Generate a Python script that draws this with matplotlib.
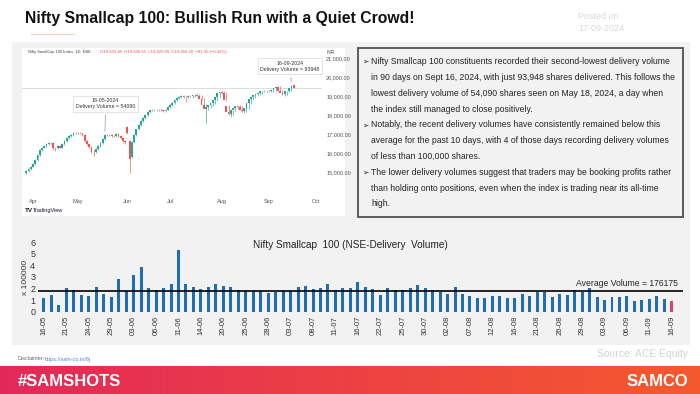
import numpy as np
import matplotlib
matplotlib.use("Agg")
import matplotlib.pyplot as plt
from matplotlib import font_manager
from matplotlib.patches import Rectangle

names = {f.name for f in font_manager.fontManager.ttflist}
NARROW = "Liberation Sans Narrow" if "Liberation Sans Narrow" in names else "Liberation Sans"
plt.rcParams["font.family"] = ["Liberation Sans", "DejaVu Sans"]

# ---- daily OHLC, Nifty Smallcap 100 ----
opens = [14950, 15050, 15150, 15300, 15450, 15650, 15900, 16150, 16300, 16400,
         16480, 16520, 16550, 16300, 16250, 16380, 16300, 16500, 16650, 16780,
         16900, 16980, 17050, 17080, 17060, 17040, 16950, 16650, 16500, 16350,
         16080, 16050, 16200, 16380, 16550, 16750, 16950, 16980, 16950, 16920,
         16900, 17000, 16900, 16800, 16650, 17400, 16650, 15800, 16600, 16950,
         17250, 17500, 17700, 17850, 18000, 18150, 18250, 18300, 18260, 18300,
         18280, 18250, 18230, 18300, 18420, 18550, 18650, 18780, 18900, 18950,
         19000, 18980, 18950, 19020, 19000, 19050, 19080, 19000, 18850, 18550,
         18350, 18450, 18550, 18650, 18800, 18950, 19150, 19200, 19150, 18500,
         18150, 18050, 18250, 18400, 18500, 18450, 18250, 18200, 18400, 18650,
         18850, 18950, 19050, 19100, 19150, 19250, 19300, 19280, 19300, 19290,
         19350, 19450, 19500, 19300, 19150, 19100, 19250, 19300, 19450, 19603]
highs = [15100, 15200, 15350, 15500, 15700, 15950, 16200, 16350, 16450, 16530,
         16580, 16600, 16600, 16350, 16430, 16450, 16550, 16700, 16830, 16950,
         17030, 17100, 17130, 17130, 17110, 17090, 17000, 16700, 16550, 16400,
         16150, 16250, 16430, 16600, 16800, 17000, 17030, 17030, 17000, 16970,
         17050, 17050, 16950, 16850, 16700, 17450, 16700, 16650, 17000, 17300,
         17550, 17750, 17900, 18050, 18200, 18300, 18350, 18350, 18350, 18350,
         18330, 18300, 18350, 18470, 18600, 18700, 18830, 18950, 19000, 19050,
         19050, 19030, 19070, 19070, 19050, 19100, 19130, 19130, 19050, 18900,
         18600, 18500, 18600, 18700, 18850, 19000, 19200, 19250, 19250, 19200,
         18550, 18200, 18300, 18450, 18550, 18550, 18500, 18300, 18450, 18700,
         18900, 19000, 19100, 19150, 19200, 19300, 19350, 19350, 19350, 19350,
         19400, 19500, 19550, 19550, 19350, 19200, 19300, 19350, 19600, 19607]
lows = [14900, 15000, 15100, 15250, 15400, 15600, 15850, 16100, 16250, 16350,
        16430, 16470, 16150, 16120, 16200, 16250, 16250, 16450, 16600, 16730,
        16850, 16930, 17000, 17010, 16990, 16900, 16600, 16450, 16300, 16020,
        15850, 16000, 16150, 16330, 16500, 16700, 16900, 16900, 16870, 16850,
        16850, 16850, 16750, 16550, 16500, 17000, 14950, 15750, 16550, 16900,
        17200, 17450, 17650, 17800, 17950, 18100, 18200, 18210, 18210, 18230,
        18200, 18180, 18180, 18250, 18370, 18500, 18600, 18730, 18850, 18900,
        18930, 18700, 18900, 18950, 18900, 18950, 19000, 18950, 18800, 18500,
        17570, 18300, 18400, 18500, 18600, 18750, 18900, 19100, 19100, 18750,
        18000, 17900, 18000, 18200, 18350, 18400, 18150, 18100, 18150, 18350,
        18600, 18800, 18900, 19000, 19050, 19100, 19200, 19230, 19230, 19240,
        19240, 19300, 19400, 19250, 19050, 19000, 19050, 19200, 19250, 19429]
closes = [15050, 15150, 15300, 15450, 15650, 15900, 16150, 16300, 16400, 16480,
          16520, 16550, 16300, 16250, 16380, 16300, 16500, 16650, 16780, 16900,
          16980, 17050, 17080, 17060, 17040, 16950, 16650, 16500, 16350, 16080,
          16050, 16200, 16380, 16550, 16750, 16950, 16980, 16950, 16920, 16900,
          17000, 16900, 16800, 16650, 16600, 17050, 15700, 16600, 16950, 17250,
          17500, 17700, 17850, 18000, 18150, 18250, 18300, 18260, 18300, 18280,
          18250, 18230, 18300, 18420, 18550, 18650, 18780, 18900, 18950, 19000,
          18980, 18950, 19020, 19000, 19050, 19080, 19000, 18850, 18550, 18350,
          18450, 18550, 18650, 18800, 18950, 19150, 19200, 19150, 18800, 18150,
          18050, 18250, 18400, 18500, 18450, 18250, 18200, 18400, 18650, 18850,
          18950, 19050, 19100, 19150, 19250, 19300, 19280, 19300, 19290, 19350,
          19450, 19500, 19300, 19150, 19100, 19250, 19300, 19450, 19538, 19456]
month_pos = [3, 23, 45, 64, 87, 108, 129]
month_lbl = ["Apr", "May", "Jun", "Jul", "Aug", "Sep", "Oct"]
price_ticks = [15000, 16000, 17000, 18000, 19000, 20000, 21000]

# ---- NSE delivery volume (x 100000) ----
vol_labels = ["16-05", "21-05", "24-05", "29-05", "03-06", "06-06", "11-06", "14-06",
              "20-06", "25-06", "28-06", "03-07", "08-07", "11-07", "16-07", "22-07",
              "25-07", "30-07", "02-08", "07-08", "12-08", "16-08", "21-08", "26-08",
              "29-08", "03-09", "06-09", "11-09", "16-09"]
volumes = [1.15, 1.44, 0.54, 2.08, 1.85, 1.44, 1.36, 2.13, 1.53, 1.27,
           2.83, 1.79, 3.17, 3.89, 2.02, 1.87, 2.08, 2.37, 5.37, 2.39,
           2.16, 1.96, 2.10, 2.39, 2.22, 2.10, 1.87, 1.79, 1.79, 1.79,
           1.62, 1.67, 1.79, 1.79, 2.16, 2.22, 1.96, 2.08, 2.37, 1.87,
           2.08, 2.02, 2.54, 2.16, 1.96, 1.44, 2.02, 1.87, 1.87, 2.02,
           2.31, 2.02, 1.87, 1.73, 1.50, 2.10, 1.50, 1.38, 1.21, 1.21,
           1.36, 1.36, 1.15, 1.21, 1.50, 1.38, 1.73, 1.73, 1.30, 1.50,
           1.44, 1.87, 1.73, 2.02, 1.24, 0.98, 1.30, 1.30, 1.36, 0.96,
           0.97, 1.10, 1.36, 1.07, 0.94]
avg_volume = 1.76175

bullets = [
    ("➢", "Nifty Smallcap 100 constituents recorded their second-lowest delivery volume"),
    ("", "in 90 days on Sept 16, 2024, with just 93,948 shares delivered. This follows the"),
    ("", "lowest delivery volume of 54,090 shares seen on May 18, 2024, a day when"),
    ("", "the index still managed to close positively."),
    ("➢", "Notably, the recent delivery volumes have consistently remained below this"),
    ("", "average for the past 10 days, with 4 of those days recording delivery volumes"),
    ("", "of less than 100,000 shares."),
    ("➢", "The lower delivery volumes suggest that traders may be booking profits rather"),
    ("", "than holding onto positions, even when the index is trading near its all-time"),
    ("", "high."),
]

fig = plt.figure(figsize=(7, 3.94), dpi=100)
fig.patch.set_facecolor("white")

# background layer in pixel coordinates
bg = fig.add_axes([0, 0, 1, 1], zorder=0)
bg.set_xlim(0, 700)
bg.set_ylim(394, 0)
bg.axis("off")
bg.add_patch(Rectangle((12, 42), 678, 303, color="#f2f2f2", lw=0))
bg.add_patch(Rectangle((22, 48), 323, 168, color="white", lw=0))
bg.add_patch(Rectangle((358, 48), 325, 169, fc="#f2f2f2", ec="#505050", lw=1.3))

bg.text(25, 18, "Nifty Smallcap 100: Bullish Run with a Quiet Crowd!", fontsize=11.3,
        fontweight="bold", family=NARROW, va="center", ha="left", color="#111111")
bg.plot([31, 74], [34, 34], color="#f3d2c8", lw=0.8)
bg.text(578, 16, "Posted on", fontsize=6.5, color="#dadada", va="center")
bg.text(578, 28, "17-09-2024", fontsize=6.5, color="#dadada", va="center")

for k, (mark, line) in enumerate(bullets):
    y = 61.7 + k * 15.8
    if mark:
        bg.text(362, y, mark, fontsize=5.5, va="center", family=["DejaVu Sans"], color="#222")
    bg.text(371, y, line, fontsize=6.2, va="center", color="#222222")

# footer
grad = np.linspace(0, 1, 256).reshape(1, -1)
c0 = np.array([0.89, 0.16, 0.35])
c1 = np.array([0.96, 0.35, 0.18])
img = c0[None, None, :] * (1 - grad[..., None]) + c1[None, None, :] * grad[..., None]
bg.imshow(img, extent=[0, 700, 394, 366], aspect="auto", zorder=1)
bg.set_xlim(0, 700)
bg.set_ylim(394, 0)
bg.text(18, 381, "#SAMSHOTS", fontsize=12, fontweight="bold", family=NARROW,
        color="white", va="center", zorder=2)
bg.text(688, 381, "SAMCO", fontsize=12, fontweight="bold", color="white",
        ha="right", va="center", zorder=2)
bg.text(18, 359, "Disclaimer:", fontsize=4, color="#666666", va="center")
bg.text(45, 359, "https://sam-co.in/6j", fontsize=4, color="#4a86e8", va="center")
bg.text(688, 354, "Source: ACE Equity", fontsize=7.5, color="#d4d4d4", ha="right", va="center")

# ---- candlestick panel ----
o = np.array(opens)
h = np.array(highs)
l = np.array(lows)
c = np.array(closes)
idx = np.arange(len(c))
col = np.where(c >= o, "#26a69a", "#ef5350")

ax = fig.add_axes([22 / 700, 1 - 195 / 394, 300 / 700, 147 / 394], zorder=2)
ax.set_facecolor("none")
ax.vlines(idx, l, h, colors=col, lw=0.45)
ax.bar(idx, np.abs(c - o), bottom=np.minimum(o, c), width=0.8, color=col, lw=0)
ax.axhline(closes[-1], color="#d0d0d0", lw=0.5, zorder=0)
ax.set_xlim(-1.9, 131.6)
ax.set_ylim(13800, 21540)
ax.set_xticks(month_pos)
ax.set_xticklabels(month_lbl)
ax.yaxis.tick_right()
ax.set_yticks(price_ticks)
ax.set_yticklabels([f"{v:,.2f}" for v in price_ticks])
ax.tick_params(length=0, labelsize=4, colors="#555555")
ax.tick_params(axis="x", pad=3)
ax.tick_params(axis="y", pad=3)
for s in ax.spines.values():
    s.set_visible(False)

box = dict(boxstyle="square,pad=0.5", fc="white", ec="#cfcfcf", lw=0.4)
ax.annotate("16-09-2024\nDelivery Volume = 93948", xy=(118, highs[118]), xytext=(117.4, 20570),
            fontsize=3.8, ha="center", va="center", color="#333333", bbox=box,
            arrowprops=dict(arrowstyle="-", color="#999999", lw=0.5))
ax.annotate("18-05-2024\nDelivery Volume = 54090", xy=(35, highs[35]), xytext=(35.3, 18600),
            fontsize=3.8, ha="center", va="center", color="#333333", bbox=box,
            arrowprops=dict(arrowstyle="-", color="#999999", lw=0.5))

bg.text(28, 52, "Nifty SmallCap 100 Index, 1D, NSE", fontsize=2.9, color="#444444", va="center")
bg.text(100, 52, "O19,603.40  H19,606.55  L19,429.05  C19,456.20  \u221281.35 (\u22120.42%)",
        fontsize=3.1, color="#ef5350", va="center")
bg.text(327, 52, "INR", fontsize=3.4, color="#444444", va="center")
bg.text(25, 210, "TV", fontsize=4.5, fontweight="bold", color="#131722", va="center")
bg.text(33, 210, "TradingView", fontsize=4, color="#131722", va="center")

# ---- delivery volume bars ----
bx = fig.add_axes([38 / 700, 1 - 311.7 / 394, 645 / 700, 69.4 / 394], zorder=2)
bx.set_facecolor("none")
vx = np.arange(len(volumes))
bar_col = ["#1f6db5"] * (len(volumes) - 1) + ["#d9436a"]
bx.bar(vx, volumes, width=0.4, color=bar_col, lw=0)
bx.axhline(avg_volume, color="black", lw=1.2)
bx.set_xlim(-0.8, 85.5)
bx.set_ylim(0, 6)
bx.set_yticks(range(7))
bx.set_xticks(vx[::3])
bx.set_xticklabels(vol_labels, rotation=90)
bx.tick_params(length=0, colors="#333333")
bx.tick_params(axis="x", labelsize=5.5, pad=3)
bx.tick_params(axis="y", labelsize=6.5, pad=2)
bx.set_ylabel("x 100000", fontsize=6, labelpad=1, color="#333333")
for s in bx.spines.values():
    s.set_visible(False)
bg.text(350, 245, "Nifty Smallcap  100 (NSE-Delivery  Volume)", fontsize=7.2,
        ha="center", va="center", color="#222222")
bg.text(678, 283, "Average Volume = 176175", fontsize=6.2, ha="right", va="center",
        color="#222222")

fig.savefig("out.png", dpi=100)
